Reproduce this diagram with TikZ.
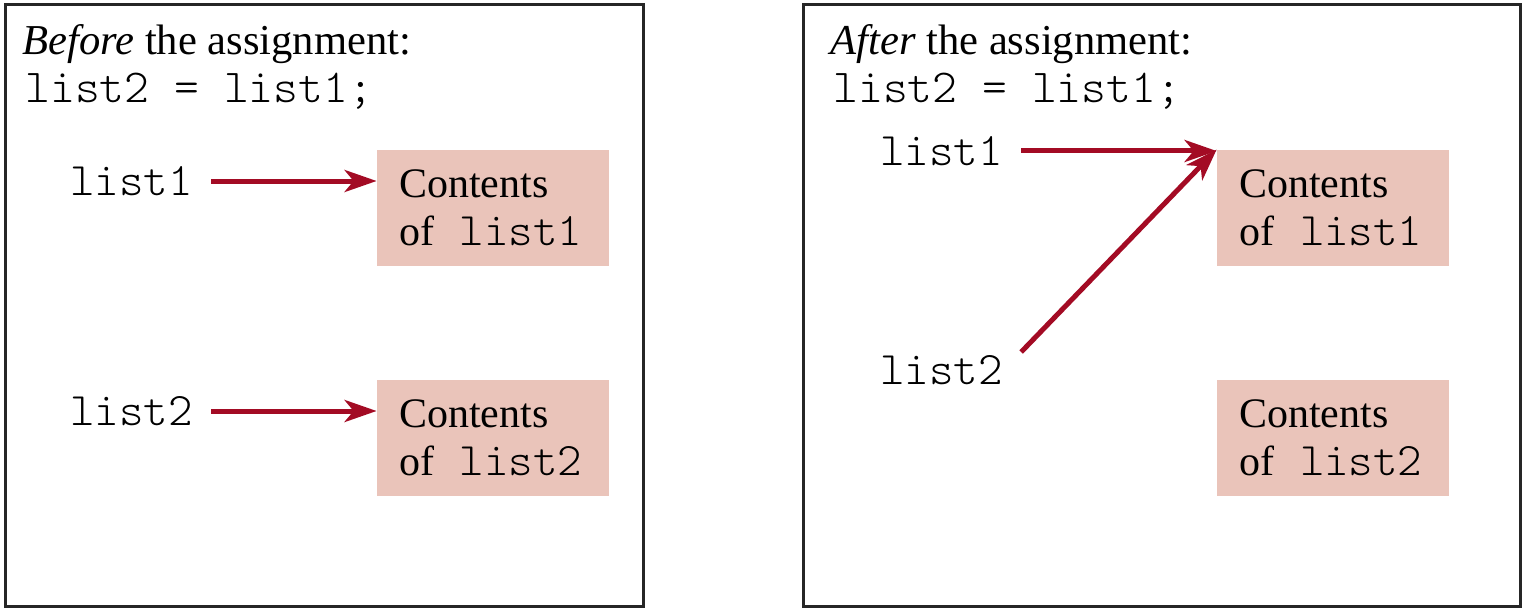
\documentclass[tikz,border=0pt]{standalone}
\usepackage{fontspec}
\setmainfont{Liberation Serif}
\setmonofont[Scale=1.11]{Latin Modern Mono Light}
\usetikzlibrary{arrows.meta}
\definecolor{boxpink}{RGB}{234,196,186}
\definecolor{arrred}{RGB}{163,11,36}
\newcommand{\oflist}[1]{of\hspace*{13pt}\texttt{#1}}
\begin{document}
\begin{tikzpicture}[x=0.5pt,y=-0.5pt,
  frame/.style={draw=black!85,line width=1.5pt},
  txt/.style={font=\fontsize{21.3}{24}\selectfont,inner sep=0pt,anchor=base west},
  lbl/.style={font=\fontsize{21}{24}\selectfont\ttfamily,inner sep=0pt,anchor=west},
  cbox/.style={fill=boxpink,font=\fontsize{21}{24}\selectfont,align=left,
    text width=94pt,inner xsep=11pt,inner ysep=0pt,minimum width=116pt,minimum height=58pt},
  arr/.style={draw=arrred,line width=2.5pt,-{Stealth[length=16pt,width=11pt,inset=4.5pt]},shorten <=9pt}]
\useasboundingbox (0,0) rectangle (1526,610);
% frames
\draw[frame] (5,5) rectangle (643,606);
\draw[frame] (803,5) rectangle (1520,606);
% left panel
\node[txt] (h1) at (22,55) {\textit{Before} the assignment:};
\node[txt] (s1) at (25,103) {\ttfamily list2 = list1;};
\node[cbox] (c1) at (493,208) {Contents\\\oflist{list1}};
\node[cbox] (c2) at (493,438) {Contents\\\oflist{list2}};
\node[lbl] (l1) at (70,181) {list1};
\node[lbl] (l2) at (70,411) {list2};
\draw[arr] (l1.east) -- (l1.east -| c1.west);
\draw[arr] (l2.east) -- (l2.east -| c2.west);
% right panel
\node[txt] (h2) at (830,55) {\textit{After} the assignment:};
\node[txt] (s2) at (833,103) {\ttfamily list2 = list1;};
\node[cbox] (rc1) at (1333,208) {Contents\\\oflist{list1}};
\node[cbox] (rc2) at (1333,438) {Contents\\\oflist{list2}};
\node[lbl] (r1) at (880,151) {list1};
\node[lbl] (r2) at (880,370) {list2};
\draw[arr] (r1.east) -- (r1.east -| rc1.west);
\draw[arr,shorten <=0pt] ([xshift=9pt,yshift=9pt]r2.east) -- (rc1.north west);
\end{tikzpicture}
\end{document}
